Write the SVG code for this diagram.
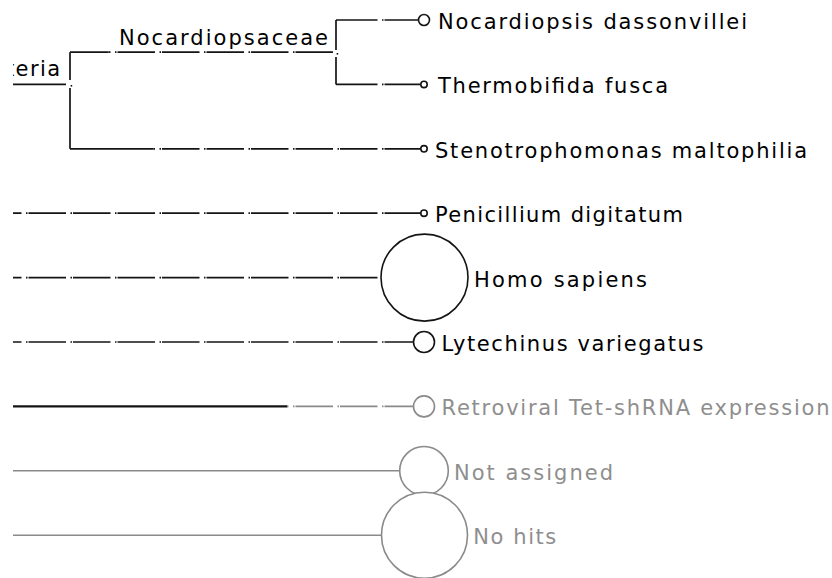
<svg xmlns="http://www.w3.org/2000/svg" width="832" height="578" viewBox="0 0 832 578">
<style>
  text { font-family: "DejaVu Sans", Verdana, sans-serif; font-size: 21px; }
  .lbl { fill: #000; }
  .glbl { fill: #8e8e8e; }
  .e { fill: none; stroke: #141414; stroke-width: 1.7; }
  .ge { fill: none; stroke: #8a8a8a; stroke-width: 1.6; }
  .d { stroke-dasharray: 1.5 1 37.5 4.5; }
  .thick { stroke-width: 2.3; }
  .n { fill: #fff; stroke: #141414; stroke-width: 1.6; }
  .gn { fill: #fff; stroke: #8a8a8a; stroke-width: 1.6; }
</style>
<defs>
  <clipPath id="leftclip"><rect x="13" y="0" width="819" height="578"/></clipPath>
</defs>
<rect x="0" y="0" width="832" height="578" fill="#fff"/>

<g id="connectors">
  <path class="e" d="M13,84.4 H66"/>
  <path class="e" d="M70,148.8 V88 M70,80 V52.2"/>
  <rect x="70.6" y="85" width="1.6" height="1.6" fill="#141414"/>
  <path class="e" d="M70,52.2 H108.5"/>
  <path class="e d" style="stroke-dashoffset:38" d="M108.5,52.2 H333"/>
  <path class="e" d="M336,20 V50 M336,57 V84.4"/>
  <rect x="336.6" y="53" width="1.6" height="1.6" fill="#141414"/>
  <path class="e" d="M336,20 H375"/>
  <path class="e d" style="stroke-dashoffset:37.5" d="M375,20 H418.5"/>
  <path class="e" d="M336,84.4 H375"/>
  <path class="e d" style="stroke-dashoffset:37.5" d="M375,84.4 H420.8"/>
  <path class="e" d="M70,148.8 H153.5"/>
  <path class="e d" style="stroke-dashoffset:38.5" d="M153.5,148.8 H420.8"/>
  <path class="e d" style="stroke-dashoffset:31.5" d="M13,213.2 H420.8"/>
  <path class="e d" style="stroke-dashoffset:31.5" d="M13,277.6 H381"/>
  <path class="e d" style="stroke-dashoffset:31.5" d="M13,342 H413.5"/>
  <path class="e thick" d="M13,406.4 H287.5"/>
  <path class="ge d" style="stroke-dashoffset:39" d="M287.5,406.4 H413.5"/>
  <path class="ge" d="M13,470.8 H399.7"/>
  <path class="ge" d="M13,535.2 H381"/>
</g>

<g id="node-bacteria" clip-path="url(#leftclip)">
  <text class="lbl" x="6" y="76" textLength="54" lengthAdjust="spacing">teria</text>
</g>
<g id="node-nocardiopsaceae">
  <text class="lbl" x="119" y="45" textLength="209" lengthAdjust="spacing">Nocardiopsaceae</text>
</g>
<g id="node-nocardiopsis">
  <circle class="n" cx="424" cy="20" r="5.5"/>
  <text class="lbl" x="438" y="29" textLength="309" lengthAdjust="spacing">Nocardiopsis dassonvillei</text>
</g>
<g id="node-thermobifida">
  <circle class="n" cx="424" cy="84.4" r="3.2"/>
  <text class="lbl" x="438" y="93.4" textLength="230" lengthAdjust="spacing">Thermobifida fusca</text>
</g>
<g id="node-stenotrophomonas">
  <circle class="n" cx="424" cy="148.8" r="3.2"/>
  <text class="lbl" x="435" y="157.8" textLength="372" lengthAdjust="spacing">Stenotrophomonas maltophilia</text>
</g>
<g id="node-penicillium">
  <circle class="n" cx="424" cy="213.2" r="3.2"/>
  <text class="lbl" x="435" y="222.2" textLength="248" lengthAdjust="spacing">Penicillium digitatum</text>
</g>
<g id="node-homo">
  <circle class="n" cx="424.5" cy="277.6" r="43.5"/>
  <text class="lbl" x="474" y="286.8" textLength="173" lengthAdjust="spacing">Homo sapiens</text>
</g>
<g id="node-lytechinus">
  <circle class="n" cx="424" cy="342" r="10.5"/>
  <text class="lbl" x="441.5" y="351" textLength="262" lengthAdjust="spacing">Lytechinus variegatus</text>
</g>
<g id="node-retroviral">
  <circle class="gn" cx="424" cy="406.4" r="10.5"/>
  <text class="glbl" x="441.5" y="415.4" textLength="388" lengthAdjust="spacing">Retroviral Tet-shRNA expression</text>
</g>
<g id="node-not-assigned">
  <circle class="gn" cx="424" cy="470.8" r="24.3"/>
  <text class="glbl" x="454" y="479.8" textLength="159" lengthAdjust="spacing">Not assigned</text>
</g>
<g id="node-no-hits">
  <circle class="gn" cx="424.5" cy="535.2" r="43"/>
  <text class="glbl" x="473.3" y="544.2" textLength="83" lengthAdjust="spacing">No hits</text>
</g>
</svg>
